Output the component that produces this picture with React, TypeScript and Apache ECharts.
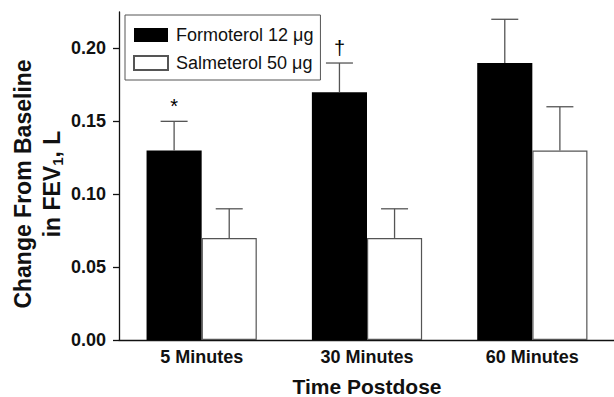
import React, { useEffect, useRef } from "react";
import * as echarts from "echarts";

const categories = ["5 Minutes", "30 Minutes", "60 Minutes"];
const formoterol = [0.13, 0.17, 0.19];
const salmeterol = [0.07, 0.07, 0.13];
const formoterolErr = [0.02, 0.02, 0.03];
const salmeterolErr = [0.02, 0.02, 0.03];
const annotations = ["*", "\u2020", ""];
const yTicks = [0, 0.05, 0.1, 0.15, 0.2];

const FONT = "'Liberation Sans', Arial, Helvetica, sans-serif";

function errorSeries(name: string, values: number[], errs: number[], sign: number, notes: string[] | null) {
  return {
    type: "custom",
    name,
    z: 5,
    silent: true,
    data: values.map((v, i) => [i, v, errs[i]]),
    renderItem: (params: any, api: any) => {
      const idx = api.value(0);
      const v = api.value(1);
      const e = api.value(2);
      const base = api.coord([idx, v]);
      const top = api.coord([idx, v + e]);
      const band = api.size([1, 0])[0];
      const x = base[0] + (sign * band) / 6;
      const capHalf = 13.5;
      const style = { stroke: "#555", lineWidth: 1.3 };
      const children: any[] = [
        { type: "line", shape: { x1: x, y1: base[1], x2: x, y2: top[1] }, style },
        { type: "line", shape: { x1: x - capHalf, y1: top[1], x2: x + capHalf, y2: top[1] }, style },
      ];
      const note = notes ? notes[params.dataIndex] : "";
      if (note) {
        children.push({
          type: "text",
          style: {
            text: note,
            x: x,
            y: top[1] - 5,
            align: "center",
            verticalAlign: "bottom",
            fontSize: 20,
            fontFamily: FONT,
            fill: "#000",
          },
        });
      }
      return { type: "group", children };
    },
  };
}

export default function App() {
  const ref = useRef<HTMLDivElement>(null);
  useEffect(() => {
    if (!ref.current) return;
    const chart = echarts.init(ref.current, null, { renderer: "svg" });
    chart.setOption({
      animation: false,
      backgroundColor: "#fff",
      textStyle: { fontFamily: FONT },
      grid: { left: 119, right: -1, top: 12, bottom: 57, containLabel: false, outerBoundsMode: "none" },
      legend: {
        data: ["Formoterol 12 \u03bcg", "Salmeterol 50 \u03bcg"],
        orient: "vertical",
        left: 125,
        top: 15,
        itemWidth: 34,
        itemHeight: 14,
        itemGap: 10,
        padding: [11, 7, 8, 8],
        borderColor: "#555",
        borderWidth: 1,
        icon: "rect",
        textStyle: { fontSize: 18, color: "#111", fontFamily: FONT, padding: [0, 0, 0, 3] },
      },
      xAxis: {
        type: "category",
        data: categories,
        axisLine: { lineStyle: { color: "#111", width: 1.3 } },
        axisTick: { show: false },
        axisLabel: { fontSize: 18, fontWeight: "bold", color: "#111", margin: 8, fontFamily: FONT },
        name: "Time Postdose",
        nameLocation: "middle",
        nameGap: 36,
        nameTextStyle: { fontSize: 21, fontWeight: "bold", color: "#111", fontFamily: FONT },
      },
      yAxis: {
        type: "value",
        min: 0,
        max: 0.225,
        splitLine: { show: false },
        axisLine: { show: true, lineStyle: { color: "#111", width: 1.3 } },
        axisTick: { show: true, length: 6, customValues: yTicks, lineStyle: { color: "#111", width: 1.3 } },
        axisLabel: {
          fontSize: 18,
          fontWeight: "bold",
          color: "#111",
          margin: 13,
          customValues: yTicks,
          formatter: (v: number) => v.toFixed(2),
          fontFamily: FONT,
        },
      },
      graphic: [
        {
          type: "text",
          x: 37,
          y: 184,
          rotation: Math.PI / 2,
          style: {
            text: "{t|Change From Baseline}\n{t|in FEV}{s|1}{t|, L}",
            align: "center",
            verticalAlign: "middle",
            rich: {
              t: { fontSize: 23, fontWeight: "bold", fontFamily: FONT, fill: "#111", lineHeight: 29 },
              s: { fontSize: 15, fontWeight: "bold", fontFamily: FONT, fill: "#111", lineHeight: 29, padding: [12, 0, 0, 0] },
            },
          },
        },
      ],
      series: [
        {
          type: "bar",
          name: "Formoterol 12 \u03bcg",
          data: formoterol,
          barGap: "0%",
          barCategoryGap: "33.33%",
          itemStyle: { color: "#000", borderColor: "#000", borderWidth: 0 },
        },
        {
          type: "bar",
          name: "Salmeterol 50 \u03bcg",
          data: salmeterol,
          barGap: "0%",
          barCategoryGap: "33.33%",
          itemStyle: { color: "#fff", borderColor: "#555", borderWidth: 1.2 },
        },
        errorSeries("errF", formoterol, formoterolErr, -1, annotations),
        errorSeries("errS", salmeterol, salmeterolErr, 1, null),
      ],
    });
    return () => chart.dispose();
  }, []);
  return <div ref={ref} style={{ width: 614, height: 397, position: "absolute", left: 0, top: 0 }} />;
}
